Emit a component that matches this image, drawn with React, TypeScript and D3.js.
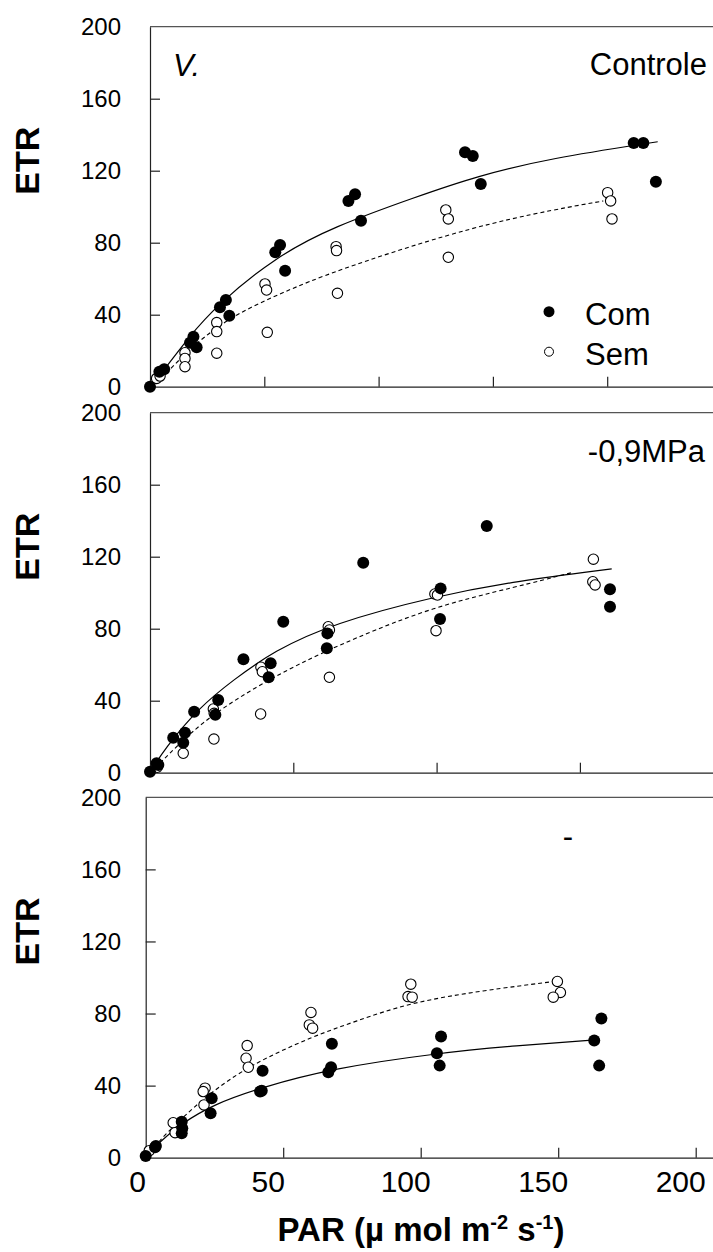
import React, { useEffect, useRef } from 'react'
import * as d3 from 'd3'

// PAR, ETR pairs
const ctrlCom = [[0, 0], [4.1, 8.3], [6.2, 9.7], [17.5, 24.4], [19, 27.8], [20.4, 21.9], [30.6, 44.1], [33.2, 48.2], [34.7, 39.4], [54.8, 74.7], [56.9, 78.7], [59.1, 64.4], [86.8, 103.2], [89.7, 106.9], [92.3, 92.2], [137.8, 130.2], [141.2, 128.2], [144.7, 112.6], [211.6, 135.4], [215.8, 135.4], [221.3, 113.9]]
const ctrlSem = [[2.9, 4.6], [4.4, 5.9], [15.3, 18.9], [15.3, 15.7], [15.3, 11.1], [29.2, 35.6], [29.2, 30.6], [29.2, 18.6], [50.3, 57.1], [51, 53.7], [51.3, 30.2], [81.4, 77.8], [81.6, 75.6], [82, 51.9], [129.4, 98.2], [130.5, 93.2], [130.5, 71.9], [200.2, 107.8], [201.5, 103.2], [202.1, 93.2]]
const ctrlComFit = [[0, 0], [7.3, 11.1], [16, 26], [29.2, 45.4], [55.4, 72.5], [80.2, 88.9], [116.7, 105.6], [142.9, 117], [175, 126.9], [222.1, 136.1]]
const ctrlSemFit = [[0, 0], [7.3, 7.4], [18.9, 23.2], [36.4, 39.8], [58.3, 52.5], [80.2, 64], [131.2, 85.2], [167.7, 96.3], [198.3, 103.2]]

const mpaCom = [[0, 0.5], [2.3, 5.2], [2.9, 4.3], [8.1, 19.4], [11.6, 16.7], [12.2, 22.2], [15.4, 33.9], [22.8, 32.2], [23.8, 40.4], [32.6, 63], [41.4, 53], [42.1, 60.8], [46.5, 83.9], [61.7, 69.1], [61.9, 77.4], [74.4, 116.7], [101.4, 102.4], [101.2, 85.4], [117.5, 137.1], [160.5, 101.9], [160.5, 92.2]]
const mpaSem = [[2.5, 3], [11.6, 10.8], [22.1, 35.4], [22.4, 33], [22.3, 18.7], [38.7, 58.6], [39.2, 56.1], [38.6, 32.6], [62.2, 81.1], [62.6, 79.3], [62.6, 53], [99.4, 99.3], [100.3, 98.7], [99.8, 78.9], [154.7, 118.6], [154.5, 106.1], [155.3, 104.3]]
const mpaComFit = [[0, 0], [4.7, 12.6], [17.4, 36.7], [29.1, 51.5], [43, 67.5], [64, 83], [98.8, 97.8], [127.9, 106.5], [161.1, 113.2]]
const mpaSemFit = [[0, 0], [5.8, 8.9], [17.4, 27.4], [34.9, 45.9], [52.3, 60.8], [71, 74.5], [98.8, 92.2], [127.9, 103.3], [147.1, 111.1]]

const lowCom = [[0, 1], [3.4, 5.8], [3.7, 6.5], [13.1, 20], [13.3, 16.3], [13.1, 13.5], [24, 33], [23.6, 24.7], [41.6, 36.7], [42.2, 37.2], [42.5, 48.2], [66.4, 47.4], [67.4, 50.2], [67.7, 63.2], [105.9, 58], [107.4, 67.2], [106.9, 51.1], [163.1, 65], [165.7, 77.2], [164.9, 51.1]]
const lowSem = [[1.3, 3.9], [10, 19.4], [10.7, 13.9], [21.6, 38.6], [20.9, 36.7], [21.2, 29.3], [36.9, 62.2], [36.5, 55.2], [37.3, 50.2], [60.1, 80.6], [59.5, 73.7], [60.7, 71.9], [96.4, 96.3], [95.4, 89.4], [96.9, 89.1], [149.7, 97.8], [150.8, 91.7], [148.2, 89.1]]
const lowComFit = [[0, 0], [4, 7.5], [13.1, 19.1], [24.6, 29.5], [41.6, 38.8], [67.6, 49.5], [105.8, 58], [134.9, 62.2], [163.4, 65.4]]
const lowSemFit = [[0, 0], [4, 8], [13.1, 21.9], [22.2, 34.3], [37.3, 51.1], [61, 67.5], [76, 75.5], [96.1, 86.1], [122.8, 92.8], [148.5, 97.8]]

const yTicks = [40, 80, 120, 160]
const yTickLabels = [0, 40, 80, 120, 160, 200]
const xTicks = [50, 100, 150, 200]
const xTickLabels = [0, 50, 100, 150, 200]
const legendLabels = ['Com', 'Sem']

const FONT = 'Liberation Sans, Arial, Helvetica, sans-serif'
const W = 713
const H = 1252

const panels = [
  { top: 26.7, bottom: 386.7, left: 150, step: 114.3, com: ctrlCom, sem: ctrlSem, comFit: ctrlComFit, semFit: ctrlSemFit, note: 'Controle', noteX: 707, noteY: 75, legend: true },
  { top: 412.7, bottom: 772.7, left: 150, step: 143.3, com: mpaCom, sem: mpaSem, comFit: mpaComFit, semFit: mpaSemFit, note: '-0,9MPa', noteX: 705, noteY: 461.5, legend: false },
  { top: 797.3, bottom: 1157.7, left: 145.7, step: 137.5, com: lowCom, sem: lowSem, comFit: lowComFit, semFit: lowSemFit, note: '-', noteX: 573, noteY: 847, legend: false },
]

const App = () => {
  const ref = useRef<SVGSVGElement>(null)

  useEffect(() => {
    draw()
  }, [])

  const draw = () => {
    const svg = d3.select(ref.current)
    svg.selectAll('*').remove()
    svg.append('rect').attr('width', W).attr('height', H).attr('fill', '#fff')

    panels.forEach((p, i) => {
      const xMax = ((W - p.left) / p.step) * 50
      const x = d3.scaleLinear().domain([0, xMax]).range([p.left, W])
      const y = d3.scaleLinear().domain([0, 200]).range([p.bottom, p.top])
      const g = svg.append('g')

      // top frame line
      g.append('line')
        .attr('x1', p.left).attr('x2', W)
        .attr('y1', p.top).attr('y2', p.top)
        .attr('stroke', '#555').attr('stroke-width', 1.2)

      const yAxis = g.append('g')
        .attr('transform', `translate(${p.left},0)`)
        .call(d3.axisLeft(y).tickValues(yTicks).tickSize(-10).tickSizeOuter(0).tickFormat(() => ''))
      const xAxis = g.append('g')
        .attr('transform', `translate(0,${p.bottom})`)
        .call(d3.axisBottom(x).tickValues(xTicks.filter((t) => x(t) < W)).tickSize(-10).tickSizeOuter(0).tickFormat(() => ''))
      ;[yAxis, xAxis].forEach((a) => {
        a.selectAll('path, line').attr('stroke', '#222').attr('stroke-width', 1.2)
      })

      g.selectAll('.ylab')
        .data(yTickLabels)
        .enter()
        .append('text')
        .attr('x', 121)
        .attr('y', (d) => y(d))
        .attr('dy', '0.35em')
        .attr('text-anchor', 'end')
        .attr('font-family', FONT)
        .attr('font-size', 24)
        .text((d) => d)

      g.append('text')
        .attr('transform', `translate(27,${(p.top + p.bottom) / 2 - 46}) rotate(-90)`)
        .attr('dy', '0.35em')
        .attr('text-anchor', 'middle')
        .attr('font-family', FONT)
        .attr('font-size', 34)
        .attr('font-weight', 'bold')
        .text('ETR')

      const line = d3.line<number[]>()
        .x((d) => x(d[0]))
        .y((d) => y(d[1]))
        .curve(d3.curveBasis)

      g.append('path').attr('d', line(p.semFit)).attr('fill', 'none')
        .attr('stroke', '#000').attr('stroke-width', 1.1).attr('stroke-dasharray', '4,3')
      g.append('path').attr('d', line(p.comFit)).attr('fill', 'none')
        .attr('stroke', '#000').attr('stroke-width', 1.2)

      g.selectAll('.sem')
        .data(p.sem)
        .enter()
        .append('circle')
        .attr('cx', (d) => x(d[0]))
        .attr('cy', (d) => y(d[1]))
        .attr('r', 5.2)
        .attr('fill', '#fff')
        .attr('stroke', '#000')
        .attr('stroke-width', 1.1)

      g.selectAll('.com')
        .data(p.com)
        .enter()
        .append('circle')
        .attr('cx', (d) => x(d[0]))
        .attr('cy', (d) => y(d[1]))
        .attr('r', 6)
        .attr('fill', '#000')

      g.append('text')
        .attr('x', p.noteX)
        .attr('y', p.noteY)
        .attr('text-anchor', 'end')
        .attr('font-family', FONT)
        .attr('font-size', 31)
        .text(p.note)

      if (p.legend) {
        g.append('text')
          .attr('x', 173)
          .attr('y', 76)
          .attr('font-family', FONT)
          .attr('font-size', 31)
          .attr('font-style', 'italic')
          .text('V.')
        legendLabels.forEach((lab, j) => {
          const cy = 311.7 + j * 40
          g.append('circle')
            .attr('cx', 549)
            .attr('cy', cy)
            .attr('r', j === 0 ? 5.5 : 4.5)
            .attr('fill', j === 0 ? '#000' : '#fff')
            .attr('stroke', '#000')
            .attr('stroke-width', j === 0 ? 0 : 1)
          g.append('text')
            .attr('x', 585)
            .attr('y', cy + 13)
            .attr('font-family', FONT)
            .attr('font-size', 31)
            .text(lab)
        })
      }

      if (i === panels.length - 1) {
        g.selectAll('.xlab')
          .data(xTickLabels)
          .enter()
          .append('text')
          .attr('x', (d) => x(d) - (d === 0 ? 8 : 15))
          .attr('y', 1181)
          .attr('dy', '0.35em')
          .attr('text-anchor', 'middle')
          .attr('font-family', FONT)
          .attr('font-size', 30)
          .text((d) => d)

        const t = g.append('text')
          .attr('x', 421)
          .attr('y', 1241)
          .attr('text-anchor', 'middle')
          .attr('font-family', FONT)
          .attr('font-size', 33)
          .attr('font-weight', 'bold')
        t.append('tspan').text('PAR (µ mol m')
        t.append('tspan').attr('dy', -12).attr('font-size', 20).text('-2')
        t.append('tspan').attr('dy', 12).text(' s')
        t.append('tspan').attr('dy', -12).attr('font-size', 20).text('-1')
        t.append('tspan').attr('dy', 12).text(')')
      }
    })
  }

  return (
    <div>
      <svg ref={ref} width={W} height={H} style={{ position: 'absolute', left: 0, top: 0 }}></svg>
    </div>
  )
}

export default App
